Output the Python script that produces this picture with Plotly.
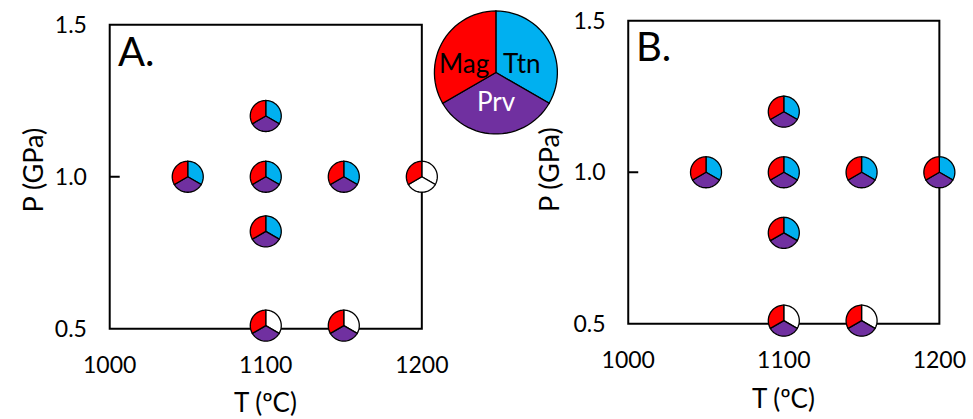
import numpy as np
import plotly.graph_objects as go

W, H = 973, 419

# ---------------- data ----------------
PHASES = ["Ttn", "Prv", "Mag"]          # clockwise from 12 o'clock
PHASE_COLORS = {"Mag": "#FF0000", "Ttn": "#00B0F0", "Prv": "#7030A0"}

T_A = [1050, 1100, 1150, 1200, 1100, 1100, 1100, 1150]
P_A = [1.0, 1.0, 1.0, 1.0, 1.2, 0.82, 0.51, 0.51]
MAG_A = [1, 1, 1, 1, 1, 1, 1, 1]
TTN_A = [1, 1, 1, 0, 1, 1, 0, 0]
PRV_A = [1, 1, 1, 0, 1, 1, 1, 1]

T_B = [1050, 1100, 1150, 1200, 1100, 1100, 1100, 1150]
P_B = [1.0, 1.0, 1.0, 1.0, 1.2, 0.80, 0.51, 0.51]
MAG_B = [1, 1, 1, 1, 1, 1, 1, 1]
TTN_B = [1, 1, 1, 1, 1, 1, 0, 0]
PRV_B = [1, 1, 1, 1, 1, 1, 1, 1]

X_TICKS = [1000, 1100, 1200]
X_TICK_LABELS = ["1000", "1100", "1200"]
Y_TICKS = [0.5, 1.0, 1.5]
Y_TICK_LABELS = ["0.5", "1.0", "1.5"]
X_RANGE = [1000, 1200]
Y_RANGE = [0.5, 1.5]

FONT = "Lato"

# ---------------- layout geometry (pixels) ----------------
panels = {
    "A": dict(left=104, right=420, top=22, bottom=328, xa="x", ya="y"),
    "B": dict(left=629, right=944, top=18, bottom=323, xa="x2", ya="y2"),
}
pad = dict(l=20, r=22, t=12, b=20)
R_SMALL = 15.5
R_LEG = 61.5


def wedge_path(a0, a1, r, n=30):
    angs = np.radians(np.linspace(a0, a1, n))
    pts = ["M 0,0"]
    for a in angs:
        pts.append(f"L {r*np.sin(a):.2f},{r*np.cos(a):.2f}")
    pts.append("Z")
    return " ".join(pts)


def pie_shapes(xref, yref, xa, ya, present, r, lw):
    out = []
    for i, ph in enumerate(PHASES):
        col = PHASE_COLORS[ph] if present[ph] else "white"
        out.append(dict(type="path", xref=xref, yref=yref, xsizemode="pixel",
                        ysizemode="pixel", xanchor=xa, yanchor=ya,
                        path=wedge_path(i * 120, (i + 1) * 120, r),
                        fillcolor=col, line=dict(color="black", width=lw),
                        layer="above"))
    return out


fig = go.Figure()
shapes = []
annotations = []

data = {
    "A": (T_A, P_A, MAG_A, TTN_A, PRV_A),
    "B": (T_B, P_B, MAG_B, TTN_B, PRV_B),
}

for key, g in panels.items():
    kx = (g["right"] - g["left"]) / (X_RANGE[1] - X_RANGE[0])
    ky = (g["bottom"] - g["top"]) / (Y_RANGE[1] - Y_RANGE[0])
    xdom = [(g["left"] - pad["l"]) / W, (g["right"] + pad["r"]) / W]
    ydom = [1 - (g["bottom"] + pad["b"]) / H, 1 - (g["top"] - pad["t"]) / H]
    xr = [X_RANGE[0] - pad["l"] / kx, X_RANGE[1] + pad["r"] / kx]
    yr = [Y_RANGE[0] - pad["b"] / ky, Y_RANGE[1] + pad["t"] / ky]
    axis_common = dict(showgrid=False, zeroline=False, showline=False, ticks="",
                       tickfont=dict(family=FONT, size=23, color="black"),
                       fixedrange=True)
    xname = "xaxis" if g["xa"] == "x" else "xaxis2"
    yname = "yaxis" if g["ya"] == "y" else "yaxis2"
    fig.update_layout(**{
        xname: dict(domain=xdom, range=xr, anchor=g["ya"], tickvals=X_TICKS,
                    ticktext=X_TICK_LABELS, ticklabelstandoff=0, **axis_common),
        yname: dict(domain=ydom, range=yr, anchor=g["xa"], tickvals=Y_TICKS,
                    ticktext=Y_TICK_LABELS, ticklabelstandoff=2, **axis_common),
    })
    # frame
    shapes.append(dict(type="rect", xref=g["xa"], yref=g["ya"],
                       x0=X_RANGE[0], x1=X_RANGE[1], y0=Y_RANGE[0], y1=Y_RANGE[1],
                       line=dict(color="black", width=2), layer="above"))
    # inside tick at 1.0
    shapes.append(dict(type="line", xref=g["xa"], yref=g["ya"], xsizemode="pixel",
                       xanchor=X_RANGE[0], x0=0, x1=10, y0=Y_TICKS[1], y1=Y_TICKS[1],
                       line=dict(color="black", width=2), layer="above"))
    T, P, MAG, TTN, PRV = data[key]
    fig.add_trace(go.Scatter(x=T, y=P, mode="markers", xaxis=g["xa"], yaxis=g["ya"],
                             marker=dict(size=32, color="rgba(0,0,0,0)"),
                             cliponaxis=False, showlegend=False,
                             hovertemplate="T=%{x} °C<br>P=%{y} GPa<extra></extra>"))
    for t, p, m, ti, pr in zip(T, P, MAG, TTN, PRV):
        shapes += pie_shapes(g["xa"], g["ya"], t, p,
                             {"Mag": m, "Ttn": ti, "Prv": pr}, R_SMALL, 1.3)
    cx = (g["left"] + g["right"]) / 2
    # axis titles
    annotations.append(dict(text="T (ºC)", xref="paper", yref="paper",
                            x=cx / W, y=1 - (402 if key == "A" else 398) / H,
                            xanchor="center", yanchor="middle", showarrow=False,
                            font=dict(family=FONT, size=26, color="black")))
    annotations.append(dict(text="P (GPa)", xref="paper", yref="paper",
                            x=(26 if key == "A" else 549) / W, y=1 - 168 / H,
                            xanchor="center", yanchor="middle", textangle=-90,
                            showarrow=False,
                            font=dict(family=FONT, size=27, color="black")))
    annotations.append(dict(text=key + ".", xref="paper", yref="paper",
                            x=(g["left"] + 6) / W,
                            y=1 - (48 if key == "A" else 43) / H,
                            xanchor="left", yanchor="middle", showarrow=False,
                            font=dict(family=FONT, size=40, color="black")))

# legend pie (key)
LEG_CX, LEG_CY = 495, 70
shapes += pie_shapes("paper", "paper", LEG_CX / W, 1 - LEG_CY / H,
                     {"Mag": 1, "Ttn": 1, "Prv": 1}, R_LEG, 1.3)
leg_pos = {"Mag": (463, 60, "black"), "Ttn": (521, 60, "black"), "Prv": (496, 99, "white")}
for ph, (lx, ly, lc) in leg_pos.items():
    annotations.append(dict(text=ph, xref="paper", yref="paper", x=lx / W, y=1 - ly / H,
                            xanchor="center", yanchor="middle", showarrow=False,
                            font=dict(family=FONT, size=26, color=lc)))

fig.update_layout(width=W, height=H, margin=dict(l=0, r=0, t=0, b=0),
                  paper_bgcolor="white", plot_bgcolor="rgba(0,0,0,0)",
                  shapes=shapes, annotations=annotations, showlegend=False,
                  font=dict(family=FONT, color="black"))

fig.write_html("out.html", config={"displayModeBar": False},
               post_script="document.body.style.margin='0';document.body.style.overflow='hidden';")
